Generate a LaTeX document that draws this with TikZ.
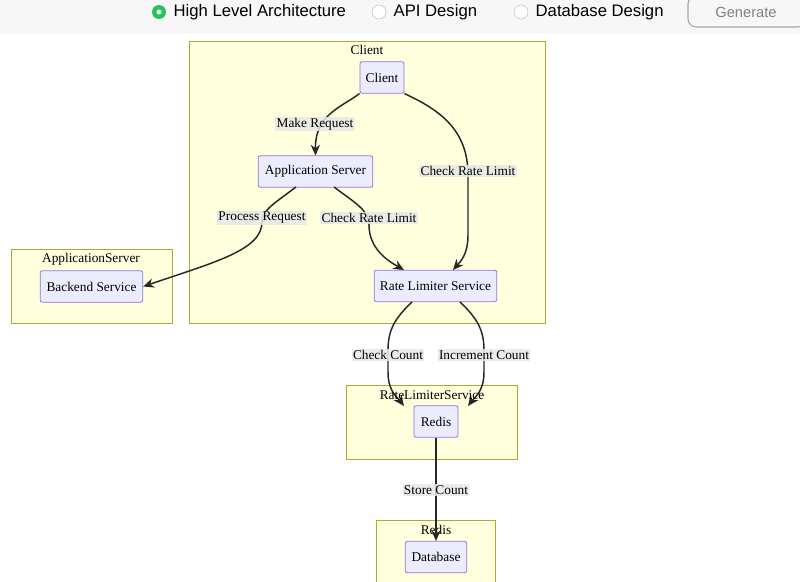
\documentclass[tikz,border=0pt]{standalone}
\usepackage{fontspec}
\setmainfont{Liberation Serif}
\newfontfamily\uifont{Liberation Sans}
\usetikzlibrary{arrows.meta}
\definecolor{clfill}{HTML}{FFFFDE}
\definecolor{cldraw}{HTML}{AAAA33}
\definecolor{ndfill}{HTML}{ECECFF}
\definecolor{nddraw}{HTML}{9370DB}
\definecolor{lbl}{HTML}{E8E8E8}
\definecolor{radio}{HTML}{22C55E}
\begin{document}
\begin{tikzpicture}[x=0.75pt,y=-0.75pt,
  cl/.style={draw=cldraw,fill=clfill,line width=0.6pt},
  cltxt/.style={font=\fontsize{10}{12}\selectfont},
  nd/.style={draw=nddraw,fill=ndfill,line width=0.6pt,rounded corners=1.5pt,font=\fontsize{10}{12}\selectfont,inner sep=0pt},
  el/.style={fill=lbl,fill opacity=0.85,text opacity=1,font=\fontsize{10}{12}\selectfont,inner sep=1pt},
  ed/.style={draw=black!85,line width=1.1pt,-{Stealth[length=8pt,width=7pt]}},
  ui/.style={font=\uifont\fontsize{12.5}{14}\selectfont,anchor=west}]
\useasboundingbox (0,0) rectangle (800,582);
\fill[gray!6] (0,0) rectangle (800,34);
\fill[white] (5,34) rectangle (800,582);
% top bar
\fill[radio] (159,12) circle (7);
\fill[white] (159,12) circle (2.5);
\node[ui] (t1) at (169,12) {High Level Architecture};
\draw[gray!50,fill=white] (379,12) circle (7);
\node[ui] (t2) at (389,12) {API Design};
\draw[gray!50,fill=white] (521,12) circle (7);
\node[ui] (t3) at (531,12) {Database Design};
\draw[gray!70,rounded corners=6pt,line width=0.8pt] (688,-4) rectangle (806,27);
\node[font=\uifont\fontsize{11}{13}\selectfont,text=gray] (gen) at (746,12) {Generate};
% clusters
\draw[cl] (189,41) rectangle (545,323);
\node[cltxt] (cC) at (367,50) {Client};
\draw[cl] (11,249) rectangle (172,323);
\node[cltxt] (cA) at (91,259) {ApplicationServer};
\draw[cl] (346,385) rectangle (517,459);
\draw[cl] (376,520) rectangle (495,590);
% nodes
\node[nd,minimum width=33pt,minimum height=23.5pt] (client) at (382,77.5) {Client};
\node[nd,minimum width=86pt,minimum height=23.5pt] (app) at (315.5,171.5) {Application Server};
\node[nd,minimum width=92pt,minimum height=23.5pt] (rls) at (435.5,286) {Rate Limiter Service};
\node[nd,minimum width=77pt,minimum height=23.5pt] (be) at (91.5,286.5) {Backend Service};
\node[nd,minimum width=33pt,minimum height=23.5pt] (redis) at (436,421.5) {Redis};
\node[nd,minimum width=46pt,minimum height=23.5pt] (db) at (436,557) {Database};
% edges
\draw[ed] (client.south west) .. controls (340,108) and (315,115) .. (app.north);
\node[el] (l1) at (315,124) {Make Request};
\draw[ed] (client.south east) .. controls (440,110) and (468,130) .. (468,175) -- (468,235) .. controls (468,255) and (460,262) .. (453,270);
\node[el] (l2) at (468,171) {Check Rate Limit};
\draw[ed] (296,187) .. controls (275,203) and (262,210) .. (262,222) .. controls (262,250) and (215,262) .. (be.east);
\node[el] (l3) at (262,218) {Process Request};
\draw[ed] (334,187) .. controls (355,203) and (369,210) .. (369,225) .. controls (369,250) and (390,262) .. (404,270);
\node[el] (l4) at (369,218) {Check Rate Limit};
\draw[ed] (412,302) .. controls (395,318) and (388,330) .. (388,350) -- (388,372) .. controls (388,392) and (398,398) .. (404,406);
\node[el] (l5) at (388,355) {Check Count};
\draw[ed] (460,302) .. controls (477,318) and (484,330) .. (484,350) -- (484,372) .. controls (484,392) and (474,398) .. (468,406);
\node[el] (l6) at (484,355) {Increment Count};
\node[cltxt] (cR) at (432,395) {RateLimiterService};
\node[cltxt] (cD) at (436,530) {Redis};
\draw[ed] (redis.south) -- (db.north);
\node[el] (l7) at (436,490) {Store Count};
\end{tikzpicture}
\end{document}
